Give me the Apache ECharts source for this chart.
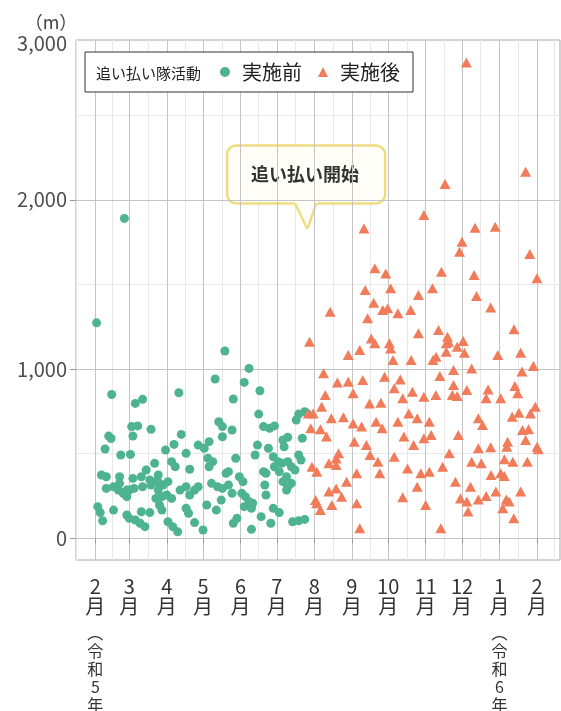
<!DOCTYPE html>
<html><head><meta charset="utf-8">
<script src="https://cdn.jsdelivr.net/npm/echarts@6/dist/echarts.min.js"></script>
<style>html,body{margin:0;padding:0;background:#fff}#c{width:561px;height:711px}</style>
</head><body><div id="c"></div>
<script>
// ---- data (day offset from 2023-02-01, distance in m) ----
const seriesNames = ['実施前', '実施後'];
const legendTitle = '追い払い隊活動';
const calloutText = '追い払い開始';
const calloutPoint = [175, 1830];
const yUnit = '（m）';
const yTopLabel = '3,000';
const yTickValues = [0, 1000, 2000];
const yMinorValues = [500, 1500, 2500];
const gridMonths = ['2023-01-01','2023-02-01','2023-03-01','2023-04-01','2023-05-01','2023-06-01','2023-07-01','2023-08-01','2023-09-01','2023-10-01','2023-11-01','2023-12-01','2024-01-01','2024-02-01','2024-03-01'];
const eraNotes = {'2023-2': '︵令和5年︶', '2024-1': '︵令和6年︶'};

const beforePoints = [
[1,1273],[24,1890],
[13.5,850],[33,797],[39,821],[69,860],[107,1107],[99,941],[11,604],[13,590],[8,528],[30,660],[35,664],[31,604],[46,644],[71,614],[65,555],[58,522],[21,492],[29,496],[49,443],[63,453],[66,423],[75,502],[78,408],[85,551],[90,532],[94,571],[102,689],[105,660],[105,600],[93,473],[97,453],[94,423],[108,384],[5,374],[9,364],[20,364],[31,354],[38,364],[42,404],[45,345],[52,374],[53,325],[49,335],[56,315],[60,335],[9,295],[15,305],[19,285],[23,266],[26,285],[20,325],[28,285],[32,295],[39,305],[46,315],[52,285],[55,246],[59,256],[63,236],[50,236],[70,285],[75,305],[82,285],[85,305],[78,256],[96,325],[101,305],[105,295],[110,315],[26,246],[2,187],[4,152],[6,104],[15,167],[26,138],[28,118],[33,108],[37,89],[38,157],[45,152],[55,167],[53,197],[60,98],[64,69],[68,39],[75,177],[77,148],[82,93],[89,49],[92,197],[100,167],[104,226],[41,69],
[127,1004],[123,921],[136,872],[114,823],[135,734],[168,734],[173,748],[175,738],[166,699],[139,660],[144,650],[148,664],[113,640],[134,551],[155,581],[159,597],[156,541],[171,591],[143,532],[147,482],[151,453],[132,492],[116,473],[168,492],[170,463],[154,443],[159,453],[162,423],[165,404],[148,423],[152,394],[110,394],[119,364],[122,335],[139,394],[141,384],[158,364],[155,335],[162,325],[159,305],[158,285],[140,315],[113,266],[121,266],[124,246],[127,217],[130,207],[123,187],[129,177],[141,256],[147,177],[152,152],[117,118],[114,89],[137,128],[145,89],[129,53],[163,98],[168,104],[173,112]
];

const afterPoints = [
[306.6,2811],
[271.5,1910],[222,1831],[231,1595],[240,1565],[223,1467],[244,1477],[194,1339],[230,1392],[237.5,1349],[241.6,1359],[250,1329],[260.6,1349],[267,1437],[225,1300],[228,1181],[231,1152],[243,1152],[244,1122],[177,1162],[218.5,1112],[209,1083],[246,1053],[261,1053],[267,1211],[188.6,975],[200,920],[209,925],[221,935],[239,955],[252,939],[247,886],[190,847],[213,857],[226.6,797],[236,801],[254,827],[262,866],[271.5,837],[187,778],[176,738],[180,737],[195,709],[205,715],[213,679],[220,660],[232,689],[237,650],[250,689],[259,738],[266,709],[178,650],[186,644],[191,601],[214,571],[224,551],[255,601],[263,551],[271.5,591],[201,502],[199,472],[227,492],[233.5,453],[247,482],[179,423],[183,394],[193,443],[199,433],[207.6,335],[216,384],[235,384],[258,413],[269,384],[193,276],[199,295],[203.5,246],[266,305],[182,226],[186,167],[183,208],[195.4,197],[216,207],[254,242],[273,197],[218.5,59],
[355.6,2166],[289,2093],[313.8,1835],[330.5,1841],[303,1752],[301,1693],[359,1680],[286,1575],[313,1556],[365,1536],[278.6,1477],[315,1431],[326.7,1363],[283.6,1231],[346,1235],[291,1191],[292,1162],[290,1152],[299,1132],[304,1166],[281.6,1073],[279,1053],[290,1103],[305,1097],[332.6,1083],[351.5,1097],[362,1018],[352.6,985],[311,1004],[296,994],[284.7,959],[296,906],[295,847],[299,841],[307,876],[281.4,847],[324.6,880],[323,827],[335,827],[346.7,900],[349,857],[363.6,778],[359.6,738],[350,742],[344.5,719],[316.5,709],[320,669],[276,689],[277.5,610],[300,610],[353,640],[358,644],[355.6,581],[340.7,571],[340,541],[365,541],[366,526],[316.5,532],[326.7,538],[292.5,502],[338,467],[345,453],[357,453],[311,453],[319,443],[287,423],[327,374],[335,384],[338,368],[297.6,335],[310,305],[351.5,276],[331,276],[323,250],[316.5,230],[301.7,236],[307,217],[308,158],[339.6,230],[342,217],[336.7,177],[345.8,118],[285.5,59],[276,394]
];

// ---- build ----
const DAY = 86400000;
const BASE = Date.parse('2023-02-01');
const toTime = d => BASE + d * DAY;
const monthStarts = gridMonths.map(s => Date.parse(s));
const monthTicks = monthStarts.slice(1, -1);
const midTicks = [];
for (let i = 0; i < monthStarts.length - 1; i++) midTicks.push((monthStarts[i] + monthStarts[i + 1]) / 2);

const FONT = '"Noto Sans CJK JP", "Noto Sans", sans-serif';
const GREEN = '#4DB391', ORANGE = '#F07C5A';
const xMin = Date.parse('2023-01-16'), xMax = Date.parse('2024-02-20');
const yMin = -128, yMax = 2944;

function monthLabel(v) {
  const d = new Date(v);
  const m = d.getUTCMonth() + 1;
  let s = '{m|' + m + '}\n{m|月}';
  const note = eraNotes[d.getUTCFullYear() + '-' + m];
  if (note) s += '\n{s| }\n' + Array.from(note).map(c => '{e|' + c + '}').join('\n');
  return s;
}

const chart = echarts.init(document.getElementById('c'), null, {renderer: 'canvas'});
const option = {
  animation: false,
  backgroundColor: '#fff',
  textStyle: {fontFamily: FONT},
  grid: {left: 76, right: 1, top: 40, bottom: 151, containLabel: false, outerBoundsMode: 'none',
         show: true, borderColor: '#a8a8a8', borderWidth: 1, backgroundColor: '#fff'},
  legend: {
    data: [{name: seriesNames[0], icon: 'circle'}, {name: seriesNames[1], icon: 'triangle'}],
    left: 85, top: 52, orient: 'horizontal',
    padding: [10, 13, 10, 135], itemGap: 16, itemWidth: 10, itemHeight: 10,
    backgroundColor: '#fff', borderColor: '#333', borderWidth: 1, borderRadius: 0,
    textStyle: {fontFamily: FONT, fontSize: 20, color: '#222', lineHeight: 20, padding: [0, 0, 0, 7]}
  },
  xAxis: [
    {type: 'value', min: xMin, max: xMax, position: 'bottom', z: 1,
     axisLine: {show: false},
     axisTick: {show: true, customValues: monthTicks, length: 5, lineStyle: {color: '#999'}},
     axisLabel: {show: true, customValues: monthTicks, formatter: monthLabel, margin: 16, verticalAlign: 'top',
       rich: {
         m: {fontFamily: FONT, fontSize: 20, lineHeight: 20, color: '#333'},
         s: {fontSize: 1, lineHeight: 8},
         e: {fontFamily: FONT, fontSize: 16, lineHeight: 18, color: '#333'}
       }},
     splitLine: {show: true, lineStyle: {color: '#c4c4c4', width: 1}}},
    {type: 'value', min: xMin, max: xMax, position: 'top', z: 0,
     axisLine: {show: false},
     axisTick: {show: false, customValues: midTicks},
     axisLabel: {show: false, customValues: midTicks},
     splitLine: {show: true, lineStyle: {color: '#e8e8e8', width: 1}}}
  ],
  yAxis: [
    {type: 'value', min: yMin, max: yMax, position: 'left', z: 1,
     axisLine: {show: false},
     axisTick: {show: true, customValues: yTickValues, length: 6, lineStyle: {color: '#999'}},
     axisLabel: {show: true, customValues: yTickValues, margin: 9, fontFamily: FONT, fontSize: 20, color: '#4d4d4d',
       formatter: v => v.toLocaleString('en-US')},
     splitLine: {show: true, lineStyle: {color: '#c4c4c4', width: 1}}},
    {type: 'value', min: yMin, max: yMax, position: 'right', z: 0,
     axisLine: {show: false},
     axisTick: {show: false, customValues: yMinorValues},
     axisLabel: {show: false, customValues: yMinorValues},
     splitLine: {show: true, lineStyle: {color: '#e8e8e8', width: 1}}}
  ],
  series: [
    {name: seriesNames[0], type: 'scatter', xAxisIndex: 0, yAxisIndex: 0, symbol: 'circle', symbolSize: 9,
     itemStyle: {color: GREEN, opacity: 1}, data: beforePoints.map(p => [toTime(p[0]), p[1]]), z: 3},
    {name: seriesNames[1], type: 'scatter', xAxisIndex: 0, yAxisIndex: 0, symbol: 'triangle', symbolSize: [11, 10],
     itemStyle: {color: ORANGE, opacity: 1}, data: afterPoints.map(p => [toTime(p[0]), p[1]]), z: 4}
  ]
};
chart.setOption(option);

const tip = chart.convertToPixel({xAxisIndex: 0, yAxisIndex: 0}, [toTime(calloutPoint[0]), calloutPoint[1]]);
const L = -80, R = 78, T = -83, B = -25;
const BORDER = '#EEDC82', FILL = '#fffef8';
chart.setOption({
  graphic: [
    {type: 'text', x: 51, y: 22, z: 10,
     style: {text: yUnit, fontFamily: FONT, fontSize: 18, fill: '#444', align: 'center', verticalAlign: 'middle'}},
    {type: 'text', x: 67, y: 43, z: 10,
     style: {text: yTopLabel, fontFamily: FONT, fontSize: 20, fill: '#4d4d4d', align: 'right', verticalAlign: 'middle'}},
    {type: 'text', x: 96, y: 73, z: 20,
     style: {text: legendTitle, fontFamily: FONT, fontSize: 15, fill: '#222', align: 'left', verticalAlign: 'middle'}},
    {type: 'group', x: tip[0], y: tip[1], z: 20, children: [
      {type: 'rect', shape: {x: L, y: T, width: R - L, height: B - T, r: 9},
       style: {fill: FILL, stroke: BORDER, lineWidth: 2.5}},
      {type: 'polygon', shape: {points: [[-13, B - 2], [-1.5, -3], [0, 0], [1.5, -3], [10, B - 2]]},
       style: {fill: FILL, stroke: null}},
      {type: 'polyline', shape: {points: [[-12, B], [-1.5, -3], [0, -0.5], [1.5, -3], [9, B]], smooth: 0},
       style: {fill: null, stroke: BORDER, lineWidth: 2.5, lineJoin: 'round'}},
      {type: 'text', x: -2, y: -54,
       style: {text: calloutText, fontFamily: FONT, fontSize: 18, fontWeight: 'bold', fill: '#333', align: 'center', verticalAlign: 'middle'}}
    ]}
  ]
});
</script></body></html>
